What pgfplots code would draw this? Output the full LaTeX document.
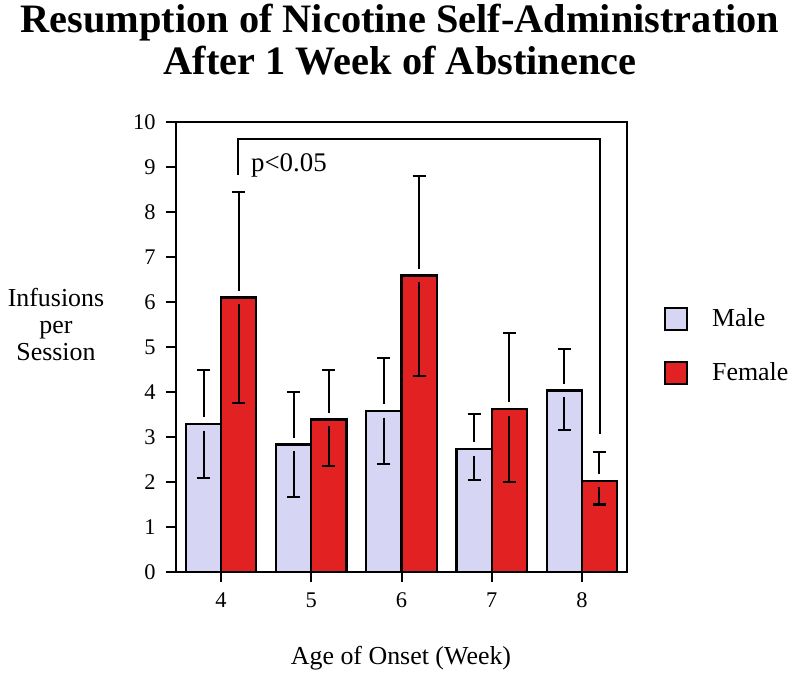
\documentclass[border=0pt]{standalone}
\usepackage{pgfplots}
\pgfplotsset{compat=1.18}
\usepackage{pgfplotstable}
\usepackage{fontspec}
\setmainfont{Liberation Serif}
\definecolor{malec}{RGB}{214,214,244}
\definecolor{femalec}{RGB}{226,34,34}
\pgfplotstableread{
x mm mup mlo fm fup flo
4 3.29 1.20 1.20 6.10 2.35 2.34
5 2.83 1.17 1.17 3.39 1.10 1.04
6 3.58 1.18 1.17 6.59 2.22 2.23
7 2.73 0.77 0.68 3.62 1.69 1.61
8 4.03 0.93 0.88 2.03 0.64 0.53
}\data
\begin{document}
\begin{tikzpicture}
\useasboundingbox (-176bp,-105bp) rectangle (624bp,572bp);
\begin{axis}[
  at={(0,0)}, anchor=south west,
  scale only axis, width=451bp, height=450bp,
  xmin=3.5, xmax=8.5, ymin=0, ymax=10,
  xtick={4,5,6,7,8}, ytick={0,1,...,10},
  xtick pos=bottom, ytick pos=left,
  tick align=outside, major tick length=10bp,
  tick style={line width=2bp, black},
  axis line style={line width=2.5bp},
  /pgf/number format/assume math mode=true,
  ticklabel style={font=\fontsize{22.5}{27}\selectfont},
  yticklabel style={xshift=-7bp},
  xticklabel style={yshift=-7bp},
  legend style={at={(axis description cs:1.082,0.503)}, anchor=west, draw=none, fill=none,
     font=\fontsize{26}{31}\selectfont, row sep=30bp, inner sep=0pt,
     nodes={inner sep=0pt}},
  legend cell align=left,
  legend image code/.code={\draw[#1, line width=2bp] (0bp,-11bp) rectangle (22bp,11bp);},
]
\addplot[ybar, bar width=0.39, bar shift=0pt, fill=malec, draw=black, line width=2.3bp]
  table[x expr=\thisrow{x}-0.195, y=mm]{\data};
\addlegendentry{\hspace{24bp}Male}
\addplot[ybar, bar width=0.39, bar shift=0pt, fill=femalec, draw=black, line width=2.3bp]
  table[x expr=\thisrow{x}+0.195, y=fm]{\data};
\addlegendentry{\hspace{24bp}Female}
% upper whiskers
\addplot[draw=none, mark=none, forget plot, error bars/.cd, y dir=plus, y explicit,
  error bar style={line width=2bp, black}, error mark options={rotate=90, mark size=6.5bp, line width=2bp, black}]
  table[x expr=\thisrow{x}-0.195, y expr=\thisrow{mm}+0.15, y error expr=\thisrow{mup}-0.15]{\data};
\addplot[draw=none, mark=none, forget plot, error bars/.cd, y dir=plus, y explicit,
  error bar style={line width=2bp, black}, error mark options={rotate=90, mark size=6.5bp, line width=2bp, black}]
  table[x expr=\thisrow{x}+0.195, y expr=\thisrow{fm}+0.15, y error expr=\thisrow{fup}-0.15]{\data};
% lower whiskers
\addplot[draw=none, mark=none, forget plot, error bars/.cd, y dir=minus, y explicit,
  error bar style={line width=2bp, black}, error mark options={rotate=90, mark size=6.5bp, line width=2bp, black}]
  table[x expr=\thisrow{x}-0.195, y expr=\thisrow{mm}-0.15, y error expr=\thisrow{mlo}-0.15]{\data};
\addplot[draw=none, mark=none, forget plot, error bars/.cd, y dir=minus, y explicit,
  error bar style={line width=2bp, black}, error mark options={rotate=90, mark size=6.5bp, line width=2bp, black}]
  table[x expr=\thisrow{x}+0.195, y expr=\thisrow{fm}-0.15, y error expr=\thisrow{flo}-0.15]{\data};
% significance bracket
\draw[line width=2bp] (axis cs:4.19,8.82) -- (axis cs:4.19,9.62) -- (axis cs:8.2,9.62) -- (axis cs:8.2,3.07);
\node[anchor=base west, inner sep=0pt, font=\fontsize{27}{32}\selectfont] at (axis cs:4.33,8.9) {p<0.05};
\end{axis}
\node[anchor=base, inner sep=0pt, font=\fontsize{40.5}{48}\selectfont\bfseries] at (224bp,539bp) {Resumption of Nicotine Self-Administration};
\node[anchor=base, inner sep=0pt, font=\fontsize{40.5}{48}\selectfont\bfseries] at (224bp,497bp) {After 1 Week of Abstinence};
\node[anchor=base, inner sep=0pt, font=\fontsize{26}{31}\selectfont] at (225bp,-92bp) {Age of Onset (Week)};
\node[anchor=base, inner sep=0pt, font=\fontsize{26}{31}\selectfont] at (-120bp,265bp) {Infusions};
\node[anchor=base, inner sep=0pt, font=\fontsize{26}{31}\selectfont] at (-120bp,238bp) {per};
\node[anchor=base, inner sep=0pt, font=\fontsize{26}{31}\selectfont] at (-120bp,211bp) {Session};
\end{tikzpicture}
\end{document}
